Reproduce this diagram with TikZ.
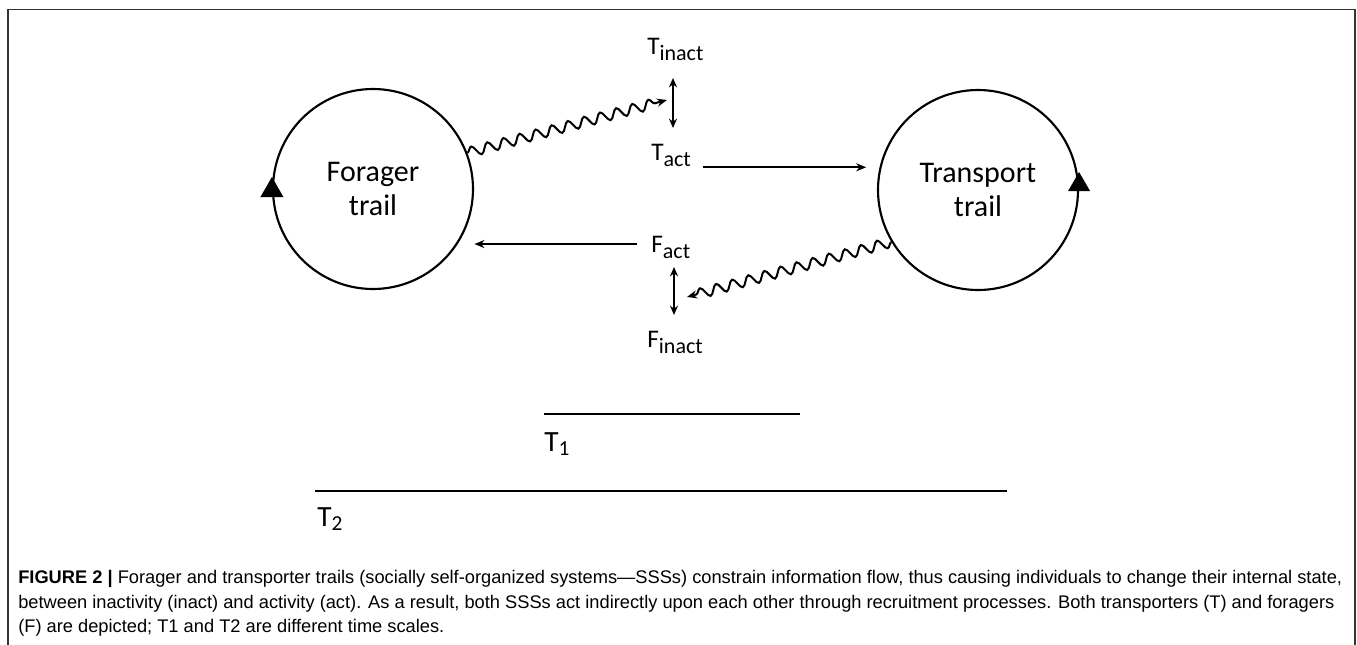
\documentclass[tikz,border=0pt]{standalone}
\usepackage{fontspec}
\setmainfont{Carlito}
\newfontfamily\capfont[Ligatures=TeX]{Liberation Sans}
\usetikzlibrary{arrows.meta,decorations.pathmorphing}

\tikzset{
  trail/.style={draw, circle, line width=1.6pt, minimum size=150pt, inner sep=0pt,
    align=center, font=\fontsize{22.5}{27}\selectfont},
  state/.style={inner sep=0pt, anchor=base west, font=\fontsize{19}{19}\selectfont},
  flow/.style={-{Stealth[length=7.5pt,width=6pt]}, line width=1.5pt},
  switch/.style={{Stealth[length=7pt,width=6pt]}-{Stealth[length=7pt,width=6pt]}, line width=1.5pt},
  wave/.style={flow, decorate,
    decoration={snake, amplitude=3.8pt, segment length=12.5pt, post length=5pt}},
  scaleline/.style={line width=1.1pt},
  caption/.style={inner sep=0pt, anchor=base west, font=\capfont\fontsize{13.7}{16}\selectfont},
}
\newcommand{\st}[2]{#1\raisebox{-5pt}{\fontsize{16.5}{16.5}\selectfont #2}}

\begin{document}
\begin{tikzpicture}[x=0.75pt,y=0.75pt,yscale=-1,xscale=1]
\useasboundingbox (0,0) rectangle (1357,644);

%Frame
\draw [color=black!80, line width=0.9pt] (8,660) -- (8,9.5) -- (1355,9.5) -- (1355,660);

%Trails
\node [trail] (forager) at (373,189) {\raisebox{-4pt}{Forager}\\[2pt]trail};
\node [trail] (transport) at (978,190) {\raisebox{-4pt}{Transport}\\[2pt]trail};
%Direction marks
\fill (forager.west) ++(-11.5,8) -- ++(23,0) -- ++(-11.5,-20) -- cycle;
\fill (transport.east) ++(-11,1) -- ++(22,0) -- ++(-11,-19) -- cycle;

% Text Node
\node [state] (tinact) at (647,54) {\st{T}{inact}};
% Text Node
\node [state] (tact) at (651,160) {\st{T}{act}};
% Text Node
\node [state] (fact) at (651,252) {\st{F}{act}};
% Text Node
\node [state] (finact) at (647,347) {\st{F}{inact}};

%Switch ends
\coordinate (tup) at (673,78);
\coordinate (tdown) at (673,128);
\coordinate (fup) at (674,267);
\coordinate (fdown) at (674,315);
\coordinate (twave) at (667,100);
\coordinate (fwave) at (687,297);

%Switches
\draw [switch] (tup) -- (tdown);
\draw [switch] (fup) -- (fdown);
%Recruitment
\draw [wave] (forager.21) -- (twave);
\draw [wave] (transport.211) -- (fwave);
%Straight Lines
\draw [flow, shorten <=9pt, shorten >=10pt] (tact.east |- transport.167) -- (transport.167);
\draw [flow, shorten <=10.5pt, shorten >=12.5pt] (fact.west |- forager.-33) -- (forager.-33);

%Time scales
\coordinate (t1a) at (544,414);
\coordinate (t1b) at (800,414);
\coordinate (t2a) at (315,491);
\coordinate (t2b) at (1007,491);
\draw [scaleline] (t1a) -- (t1b);
\draw [scaleline] (t2a) -- (t2b);
\node [state, font=\fontsize{22}{22}\selectfont] (tone) at (544,451) {T\raisebox{-3pt}{\fontsize{16}{16}\selectfont 1}};
\node [state, font=\fontsize{22}{22}\selectfont] (ttwo) at (317,526) {T\raisebox{-3pt}{\fontsize{16}{16}\selectfont 2}};

%Caption
\node [caption] (cap1) at (18,583) {\textbf{FIGURE 2 |} Forager and transporter trails (socially self-organized systems—SSSs) constrain information flow, thus causing individuals to change their internal state,};
\node [caption] (cap2) at (18,608) {between inactivity (inact) and activity (act). As a result, both SSSs act indirectly upon each other through recruitment processes. Both transporters (T) and foragers};
\node [caption] (cap3) at (18,632) {(F) are depicted; T1 and T2 are different time scales.};
\end{tikzpicture}
\end{document}
